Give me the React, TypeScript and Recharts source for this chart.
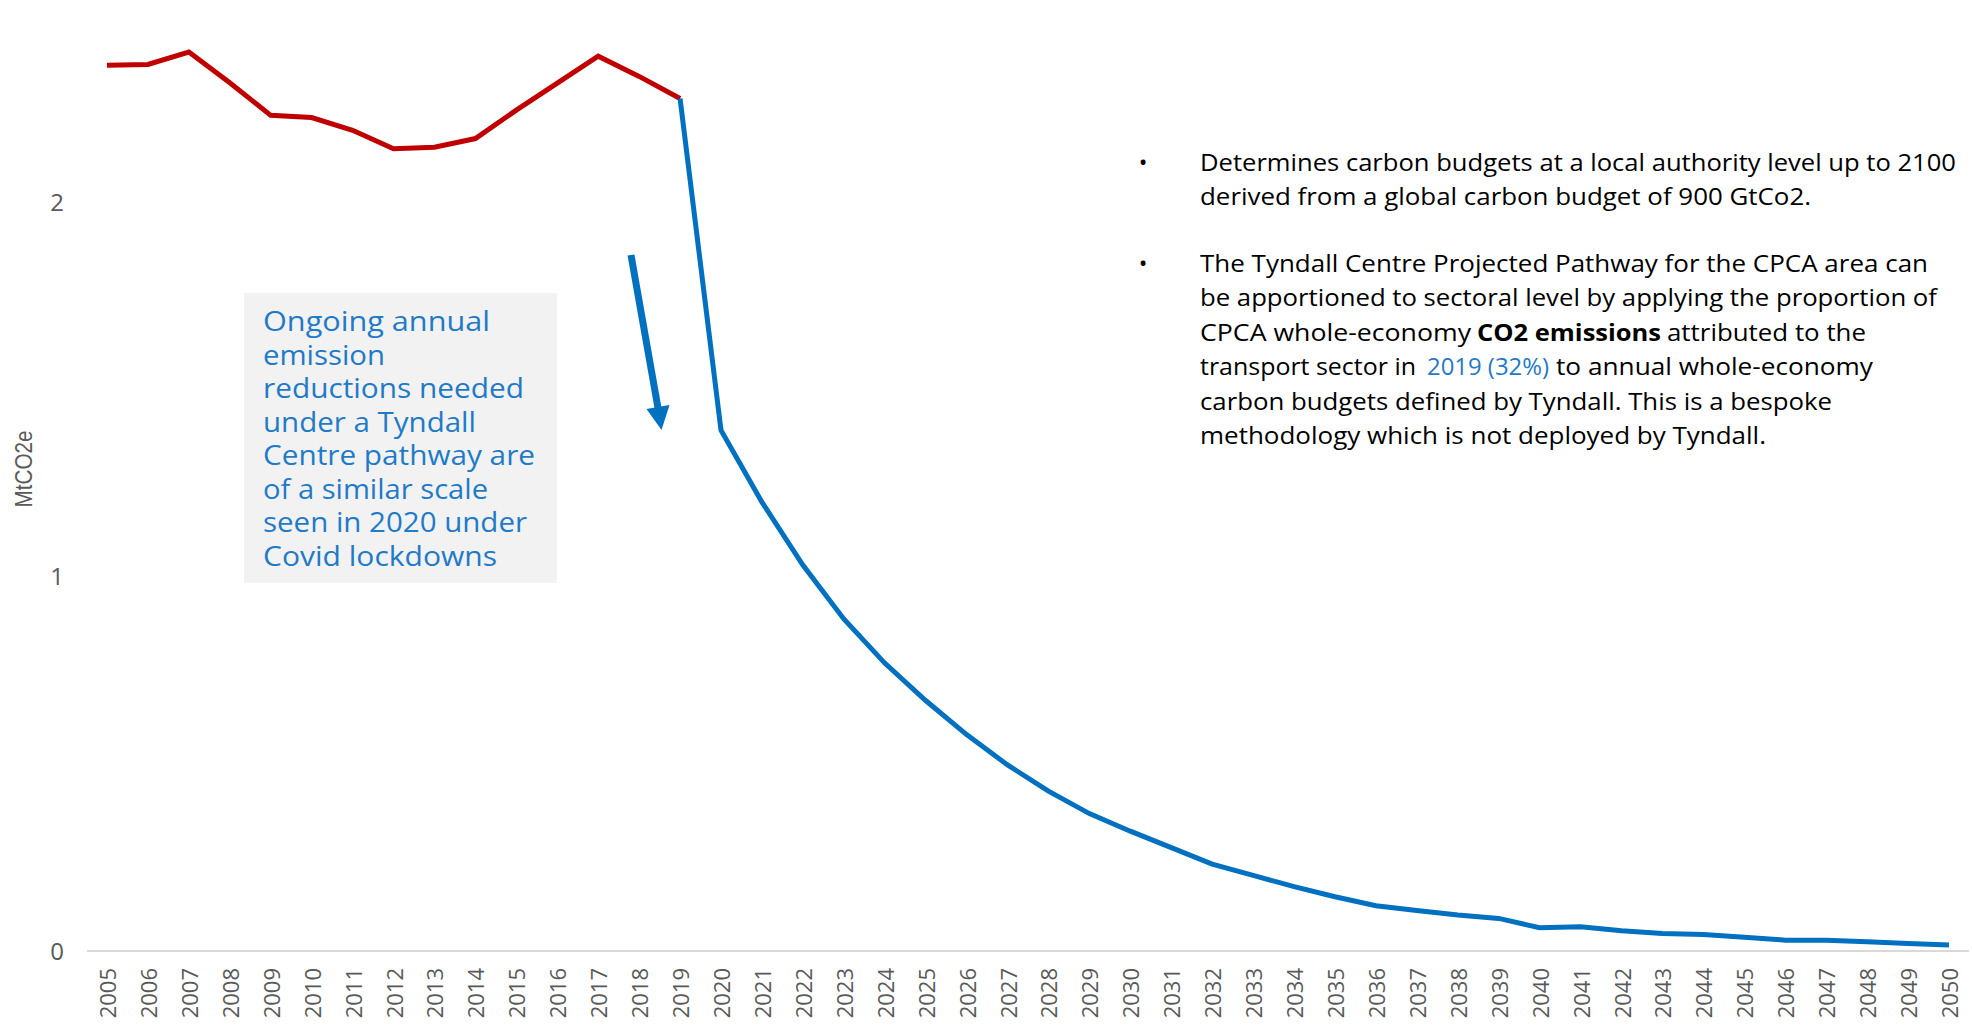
import React from 'react';
import { LineChart, Line, XAxis, YAxis } from 'recharts';

const years = [
  '2005', '2006', '2007', '2008', '2009', '2010', '2011', '2012', '2013', '2014',
  '2015', '2016', '2017', '2018', '2019', '2020', '2021', '2022', '2023', '2024',
  '2025', '2026', '2027', '2028', '2029', '2030', '2031', '2032', '2033', '2034',
  '2035', '2036', '2037', '2038', '2039', '2040', '2041', '2042', '2043', '2044',
  '2045', '2046', '2047', '2048', '2049', '2050',
];

// 2005-2019 recorded emissions
const historic = [
  2.366, 2.368, 2.401, 2.319, 2.232, 2.226, 2.192, 2.143, 2.147, 2.17,
  2.246, 2.318, 2.39, 2.336, 2.277,
];

// 2019-2050 Tyndall pathway
const pathway = [
  2.277, 1.391, 1.199, 1.031, 0.887, 0.769, 0.669, 0.578, 0.497, 0.427,
  0.367, 0.32, 0.276, 0.232, 0.202, 0.172, 0.145, 0.121, 0.108, 0.096,
  0.087, 0.062, 0.065, 0.054, 0.047, 0.044, 0.037, 0.029, 0.029, 0.025,
  0.02, 0.016,
];

const yTicks = [0, 1, 2];

const calloutLines = [
  'Ongoing annual',
  'emission',
  'reductions needed',
  'under a Tyndall',
  'Centre pathway are',
  'of a similar scale',
  'seen in 2020 under',
  'Covid lockdowns',
];

const bulletOne = [
  'Determines carbon budgets at a local authority level up to 2100',
  'derived from a global carbon budget of 900 GtCo2.',
];

const pathwayStart = years.indexOf('2019');
const data = years.map((year, i) => ({
  year,
  historic: i < historic.length ? historic[i] : null,
  pathway: i >= pathwayStart ? pathway[i - pathwayStart] : null,
}));

const GREY = '#595959';
const FONT = '"Open Sans", sans-serif';

const YearTick = ({ x, y, payload }: any) => (
  <text
    x={x}
    y={y}
    transform={`rotate(-90, ${x}, ${y})`}
    textAnchor="end"
    dominantBaseline="central"
    fontFamily={FONT}
    fontSize={22}
    fill={GREY}
  >
    {payload.value}
  </text>
);

const calloutWidths = [227, 122, 261, 213, 272, 225, 264, 234];
const bulletOneWidths = [756, 611];

const Notes = () => (
  <svg
    width={1972}
    height={1031}
    style={{ position: 'absolute', left: 0, top: 0, pointerEvents: 'none' }}
  >
    <text
      x={24}
      y={469}
      transform="rotate(-90, 24, 469)"
      textAnchor="middle"
      dominantBaseline="central"
      textLength={77}
      lengthAdjust="spacingAndGlyphs"
      fontFamily='"Liberation Sans", sans-serif'
      fontSize={23}
      fill={GREY}
    >
      MtCO2e
    </text>

    {/* callout box */}
    <rect x={244} y={293} width={313} height={290} fill="#F2F2F2" />
    {calloutLines.map((line, i) => (
      <text
        key={line}
        x={263}
        y={331 + i * 33.5}
        textLength={calloutWidths[i]}
        lengthAdjust="spacingAndGlyphs"
        fontFamily={FONT}
        fontSize={27}
        fill="#1F7AC8"
      >
        {line}
      </text>
    ))}

    {/* arrow */}
    <line x1={631} y1={255} x2={658} y2={408} stroke="#0070C0" strokeWidth={7} />
    <polygon points="646.5,409 669.5,405 661.5,430" fill="#0070C0" />

    {/* right hand notes */}
    <g fontFamily={FONT} fontSize={23} fill="#000">
      <text x={1143} y={171} textAnchor="middle">•</text>
      {bulletOne.map((line, i) => (
        <text
          key={line}
          x={1200}
          y={171 + i * 34}
          textLength={bulletOneWidths[i]}
          lengthAdjust="spacingAndGlyphs"
        >
          {line}
        </text>
      ))}

      <text x={1143} y={271.5} textAnchor="middle">•</text>
      <text x={1200} y={271.5} textLength={728} lengthAdjust="spacingAndGlyphs">
        The Tyndall Centre Projected Pathway for the CPCA area can
      </text>
      <text x={1200} y={306} textLength={737} lengthAdjust="spacingAndGlyphs">
        be apportioned to sectoral level by applying the proportion of
      </text>
      <text x={1200} y={340.5} textLength={271} lengthAdjust="spacingAndGlyphs">
        CPCA whole-economy
      </text>
      <text x={1477} y={340.5} textLength={184} lengthAdjust="spacingAndGlyphs" fontWeight={700}>
        CO2 emissions
      </text>
      <text x={1667} y={340.5} textLength={199} lengthAdjust="spacingAndGlyphs">
        attributed to the
      </text>
      <text x={1200} y={375} textLength={216} lengthAdjust="spacingAndGlyphs">
        transport sector in
      </text>
      <text x={1427} y={375} textLength={122} lengthAdjust="spacingAndGlyphs" fill="#1F7AC8">
        2019 (32%)
      </text>
      <text x={1556} y={375} textLength={317} lengthAdjust="spacingAndGlyphs">
        to annual whole-economy
      </text>
      <text x={1200} y={409.5} textLength={632} lengthAdjust="spacingAndGlyphs">
        carbon budgets defined by Tyndall. This is a bespoke
      </text>
      <text x={1200} y={444} textLength={566} lengthAdjust="spacingAndGlyphs">
        methodology which is not deployed by Tyndall.
      </text>
    </g>
  </svg>
);

export default function App() {
  return (
    <div style={{ position: 'absolute', left: 0, top: 0, width: 1972, height: 1031, background: '#fff' }}>
      <LineChart
        width={1972}
        height={1031}
        data={data}
        margin={{ top: 15, right: 3, bottom: 0, left: 0 }}
      >
        <XAxis
          dataKey="year"
          interval={0}
          height={80}
          padding={{ left: 20, right: 20 }}
          tickLine={false}
          tickSize={0}
          tickMargin={17}
          tick={<YearTick />}
          axisLine={{ stroke: '#D9D9D9', strokeWidth: 2 }}
        />
        <YAxis
          width={87}
          domain={[0, 2.5]}
          ticks={yTicks}
          axisLine={false}
          tickLine={false}
          tickSize={0}
          tickMargin={23}
          tick={{ fontFamily: FONT, fontSize: 24, fill: GREY }}
        />
        <Line
          type="linear"
          dataKey="historic"
          stroke="#C00000"
          strokeWidth={5}
          dot={false}
          activeDot={false}
          isAnimationActive={false}
        />
        <Line
          type="linear"
          dataKey="pathway"
          stroke="#0070C0"
          strokeWidth={5}
          dot={false}
          activeDot={false}
          isAnimationActive={false}
        />
      </LineChart>
      <Notes />
    </div>
  );
}
